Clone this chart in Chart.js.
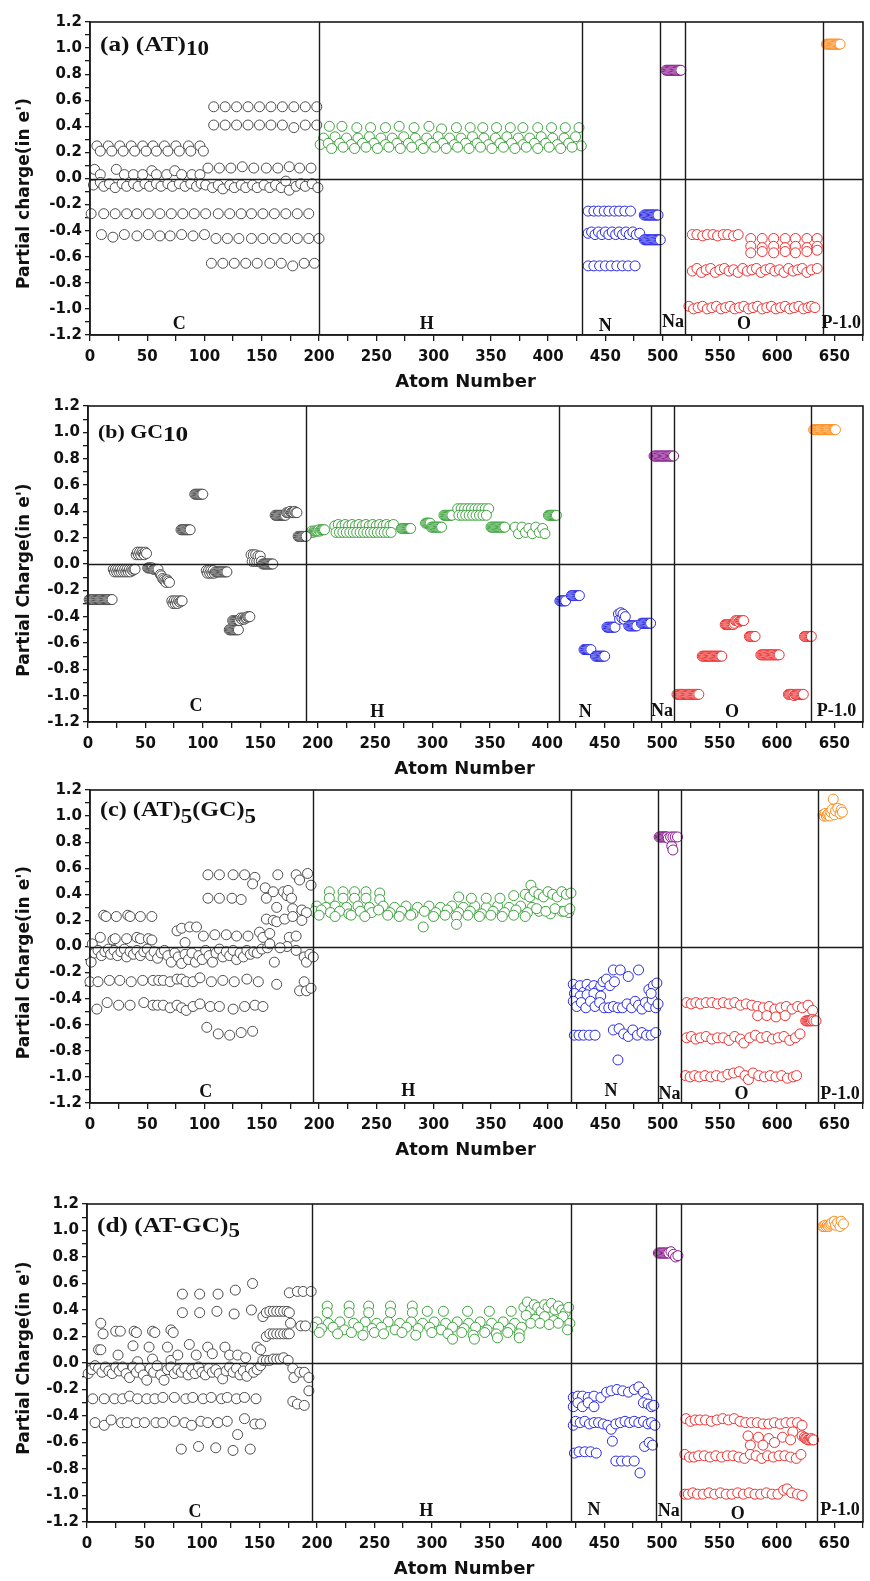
<!DOCTYPE html>
<html>
<head>
<meta charset="utf-8">
<script src="https://cdn.jsdelivr.net/npm/chart.js@4.4.1/dist/chart.umd.min.js"></script>
<style>
  body { margin: 0; background: #fff; }
  .panel { position: absolute; left: 0; width: 870px; }
</style>
</head>
<body>
<div class="panel" style="top:0px;height:395px"><canvas id="ca" width="870" height="395"></canvas></div>
<div class="panel" style="top:384px;height:398px"><canvas id="cb" width="870" height="398"></canvas></div>
<div class="panel" style="top:768px;height:395px"><canvas id="cc" width="870" height="395"></canvas></div>
<div class="panel" style="top:1182px;height:399px"><canvas id="cd" width="870" height="399"></canvas></div>
<script>
// AXES
const xMin = 0, xMax = 675, xStep = 25;
const yMin = -1.2, yMax = 1.2, yStep = 0.1;

// ELEMENTS AND COLOURS
const elements = ["C", "H", "N", "Na", "O", "P"];
const colors = { C: "#4d4d4d", H: "#3ea33e", N: "#2a2ae6", Na: "#8a1a8e", O: "#ee3030", P: "#ff8c1a" };

// (a) (AT)10
const aC = [
  [108,.55],[118,.55],[128,.55],[138,.55],[148,.55],[158,.55],[168,.55],[178,.55],[188,.55],[198,.55],
  [108,.41],[118,.41],[128,.41],[138,.41],[148,.41],[158,.41],[168,.41],[178,.39],[188,.41],[198,.41],
  [6,.25],[16,.25],[26,.25],[36,.25],[46,.25],[55,.25],[65,.25],[75,.25],[86,.25],[96,.25],
  [9,.21],[19,.21],[29,.21],[39,.21],[49,.21],[58,.21],[68,.21],[78,.21],[88,.21],[99,.21],
  [4,.07],[9,.03],[23,.07],[30,.03],[38,.03],[46,.03],[54,.06],[58,.03],[67,.03],[74,.06],[80,.03],[89,.03],[96,.03],
  [103,.08],[113,.08],[123,.08],[133,.09],[143,.08],[154,.08],[164,.08],[174,.09],[183,.08],[193,.08],
  [3,-.05],[9,-.03],[12,-.06],[17,-.04],[22,-.07],[28,-.04],[32,-.06],[38,-.04],[42,-.06],[48,-.04],
  [52,-.06],[58,-.04],[62,-.06],[68,-.04],[72,-.06],[78,-.04],[83,-.06],[88,-.04],[93,-.06],[97,-.04],
  [101,-.05],[107,-.07],[112,-.05],[116,-.08],[122,-.05],[126,-.07],[132,-.05],[136,-.07],[142,-.05],[146,-.07],
  [152,-.05],[157,-.07],[162,-.05],[167,-.07],[171,-.02],[174,-.09],[180,-.06],[184,-.04],[188,-.06],[194,-.04],[199,-.07],
  [1,-.27],[12,-.27],[22,-.27],[32,-.27],[41,-.27],[51,-.27],[61,-.27],[71,-.27],[81,-.27],[91,-.27],
  [101,-.27],[112,-.27],[122,-.27],[132,-.27],[141,-.27],[151,-.27],[161,-.27],[171,-.27],[181,-.27],[191,-.27],
  [10,-.43],[20,-.45],[30,-.43],[41,-.44],[51,-.43],[61,-.44],[70,-.44],[80,-.43],[90,-.44],[100,-.43],
  [110,-.46],[120,-.46],[130,-.46],[141,-.46],[151,-.46],[161,-.46],[171,-.46],[181,-.46],[191,-.46],[200,-.46],
  [106,-.65],[116,-.65],[126,-.65],[136,-.65],[146,-.65],[157,-.65],[167,-.65],[177,-.67],[187,-.65],[196,-.65]
];
const aH = [
  [209,.40],[220,.40],[233,.39],[245,.39],[258,.39],[270,.40],[283,.39],[296,.40],[307,.38],[320,.39],
  [332,.39],[343,.39],[355,.39],[367,.39],[378,.39],[391,.39],[403,.39],[415,.39],[427,.39],
  [204,.31],[214,.32],[224,.31],[234,.31],[244,.32],[254,.31],[264,.31],[274,.32],[284,.31],[294,.31],[304,.32],[314,.31],
  [324,.31],[334,.32],[344,.31],[354,.31],[364,.32],[374,.31],[384,.31],[394,.32],[404,.31],[414,.31],[424,.32],
  [201,.26],[208,.27],[218,.27],[228,.26],[238,.27],[248,.27],[258,.26],[268,.27],[278,.27],[288,.26],[298,.27],[308,.27],
  [318,.26],[328,.27],[338,.27],[348,.26],[358,.27],[368,.27],[378,.26],[388,.27],[398,.27],[408,.26],[418,.27],[429,.25],
  [211,.23],[221,.24],[231,.23],[241,.24],[251,.23],[261,.24],[271,.23],[281,.24],[291,.23],[301,.24],[311,.23],
  [321,.24],[331,.23],[341,.24],[351,.23],[361,.24],[371,.23],[381,.24],[391,.23],[401,.24],[411,.23],[421,.24]
];
const aN = [
  [435,-.25],[440,-.25],[444,-.25],[449,-.25],[453,-.25],[458,-.25],[462,-.25],[467,-.25],[472,-.25],
  [484,-.28],[485,-.28],[486,-.28],[487,-.28],[488,-.28],[489,-.28],[490,-.28],[491,-.28],[492,-.28],[493,-.28],[494,-.28],[495,-.28],[496,-.28],
  [435,-.42],[438,-.41],[441,-.43],[444,-.41],[447,-.43],[450,-.41],[453,-.43],[456,-.41],
  [459,-.43],[462,-.41],[465,-.43],[468,-.41],[471,-.43],[474,-.41],[477,-.43],[480,-.42],
  [484,-.47],[485,-.47],[486,-.47],[487,-.47],[488,-.47],[489,-.47],[490,-.47],[491,-.47],[492,-.47],[493,-.47],
  [494,-.47],[495,-.47],[496,-.47],[497,-.47],[498,-.47],
  [435,-.67],[440,-.67],[445,-.67],[450,-.67],[455,-.67],[460,-.67],[465,-.67],[470,-.67],[476,-.67]
];
const aNa = [[503,.83],[504,.83],[505,.83],[506,.83],[507,.83],[508,.83],[509,.83],[510,.83],[511,.83],[512,.83],[513,.83],[514,.83],[515,.83],[516,.83]];
const aO = [
  [526,-.43],[530,-.43],[535,-.44],[539,-.43],[544,-.43],[548,-.44],[553,-.43],[557,-.43],[562,-.44],[566,-.43],
  [577,-.46],[587,-.46],[597,-.46],[607,-.46],[616,-.46],[626,-.46],[635,-.46],
  [577,-.52],[587,-.53],[597,-.52],[607,-.53],[616,-.52],[626,-.53],[635,-.52],
  [577,-.57],[587,-.56],[597,-.57],[607,-.56],[616,-.57],[626,-.56],[635,-.55],
  [526,-.71],[530,-.69],[534,-.72],[538,-.70],[542,-.69],[546,-.72],[550,-.70],[554,-.69],[558,-.71],[562,-.70],
  [566,-.72],[570,-.69],[574,-.71],[578,-.70],[582,-.69],[586,-.72],[590,-.70],[594,-.69],[598,-.71],[602,-.70],
  [606,-.72],[610,-.69],[614,-.71],[618,-.70],[622,-.69],[626,-.72],[630,-.70],[635,-.69],
  [523,-.98],[527,-1.0],[531,-.99],[535,-.98],[539,-1.0],[543,-.99],[547,-.98],[551,-1.0],[555,-.99],[559,-.98],
  [563,-1.0],[567,-.99],[571,-.98],[575,-1.0],[579,-.99],[583,-.98],[587,-1.0],[591,-.99],[595,-.98],[599,-1.0],
  [603,-.99],[607,-.98],[611,-1.0],[615,-.99],[619,-.98],[623,-1.0],[627,-.99],[630,-.98],[633,-.99]
];
const aP = [[643,1.03],[644,1.03],[645,1.03],[646,1.03],[647,1.03],[648,1.03],[649,1.03],[650,1.03],[651,1.03],[652,1.03],[653,1.03],[654,1.03],[655,1.03]];

// (b) GC10
const bC = [
  [1,-.27],[2,-.27],[3,-.27],[4,-.27],[5,-.27],[6,-.27],[7,-.27],[8,-.27],[9,-.27],[10,-.27],[11,-.27],
  [12,-.27],[13,-.27],[14,-.27],[15,-.27],[16,-.27],[17,-.27],[18,-.27],[19,-.27],[20,-.27],[21,-.27],
  [22,-.04],[23,-.06],[24,-.04],[25,-.06],[26,-.04],[27,-.06],[28,-.04],[29,-.06],[30,-.04],[31,-.06],
  [32,-.04],[33,-.06],[34,-.04],[35,-.06],[36,-.04],[37,-.06],[38,-.04],[39,-.05],[40,-.04],[41,-.04],
  [42,.07],[43,.09],[44,.07],[45,.09],[46,.07],[47,.09],[48,.08],[49,.07],[50,.09],[51,.08],
  [52,-.03],[53,-.03],[54,-.03],[55,-.03],[56,-.03],[57,-.04],[58,-.04],[59,-.04],[60,-.04],[61,-.04],
  [63,-.08],[64,-.09],[65,-.11],[66,-.12],[67,-.13],[68,-.14],[69,-.12],[70,-.13],[71,-.14],
  [73,-.28],[74,-.30],[75,-.28],[76,-.30],[77,-.28],[78,-.30],[79,-.28],[80,-.29],[81,-.28],[82,-.28],
  [81,.26],[82,.26],[83,.26],[84,.26],[85,.26],[86,.26],[87,.26],[88,.26],[89,.26],
  [93,.53],[94,.53],[95,.53],[96,.53],[97,.53],[98,.53],[99,.53],[100,.53],
  [103,-.05],[104,-.07],[105,-.05],[106,-.07],[107,-.05],[108,-.07],[109,-.05],[110,-.07],[111,-.06],[112,-.06],
  [113,-.06],[114,-.06],[115,-.06],[116,-.06],[117,-.06],[118,-.06],[119,-.06],[120,-.06],[121,-.06],
  [123,-.50],[124,-.50],[125,-.50],[126,-.50],[127,-.50],[128,-.50],[129,-.50],[130,-.50],[131,-.50],
  [126,-.43],[127,-.43],[128,-.43],[129,-.43],[130,-.43],[131,-.43],[132,-.43],
  [133,-.41],[134,-.42],[135,-.41],[136,-.42],[137,-.41],[138,-.41],[139,-.40],[140,-.40],[141,-.40],
  [142,.07],[143,.02],[144,.07],[145,.02],[146,.07],[147,.02],[148,.06],[149,.02],[150,.06],[151,.02],
  [152,0],[153,0],[154,0],[155,0],[156,0],[157,0],[158,0],[159,0],[160,0],[161,0],
  [163,.37],[164,.37],[165,.37],[166,.37],[167,.37],[168,.37],[169,.37],[170,.37],[171,.37],[172,.37],
  [173,.39],[174,.39],[175,.39],[176,.40],[177,.39],[178,.39],[179,.39],[180,.40],[181,.39],[182,.39],
  [183,.21],[184,.21],[185,.21],[186,.21],[187,.21],[188,.21],[189,.21],[190,.21]
];
const bH = [
  [194,.24],[195,.25],[196,.24],[197,.25],[198,.25],[199,.25],[200,.25],[201,.26],[202,.25],[203,.26],[204,.26],[205,.26],[206,.26],
  [215,.29],[218,.30],[221,.29],[224,.30],[227,.29],[230,.30],[233,.29],[236,.30],[239,.29],[242,.30],[245,.29],[248,.30],
  [251,.29],[254,.30],[257,.29],[260,.30],[263,.29],[266,.30],
  [216,.24],[219,.24],[222,.24],[225,.24],[228,.24],[231,.24],[234,.24],[237,.24],[240,.24],[243,.24],[246,.24],
  [249,.24],[252,.24],[255,.24],[258,.24],[261,.24],[264,.24],
  [273,.27],[274,.27],[275,.27],[276,.27],[277,.27],[278,.27],[279,.27],[280,.27],[281,.27],
  [294,.31],[295,.31],[296,.31],[297,.31],[298,.31],
  [299,.28],[300,.28],[301,.28],[302,.28],[303,.28],[304,.28],[305,.28],[306,.28],[307,.28],[308,.28],
  [310,.37],[311,.37],[312,.37],[313,.37],[314,.37],[315,.37],[316,.37],[317,.37],
  [322,.42],[325,.42],[328,.42],[331,.42],[334,.42],[337,.42],[340,.42],[343,.42],[346,.42],[349,.42],
  [323,.37],[326,.37],[329,.37],[332,.37],[335,.37],[338,.37],[341,.37],[344,.37],[347,.37],
  [351,.28],[352,.28],[353,.28],[354,.28],[355,.28],[356,.28],[357,.28],[358,.28],[359,.28],[360,.28],[361,.28],[362,.28],[363,.28],
  [372,.28],[375,.23],[378,.28],[381,.24],[384,.27],[387,.23],[390,.28],[393,.24],[396,.27],[398,.23],
  [401,.37],[402,.37],[403,.37],[404,.37],[405,.37],[406,.37],[407,.37],[408,.37]
];
const bN = [
  [411,-.28],[412,-.28],[413,-.28],[414,-.28],[415,-.28],[416,-.28],
  [421,-.24],[422,-.24],[423,-.24],[424,-.24],[425,-.24],[426,-.24],[427,-.24],[428,-.24],
  [432,-.65],[433,-.65],[434,-.65],[435,-.65],[436,-.65],[437,-.65],[438,-.65],
  [442,-.70],[443,-.70],[444,-.70],[445,-.70],[446,-.70],[447,-.70],[448,-.70],[449,-.70],[450,-.70],
  [452,-.48],[453,-.48],[454,-.48],[455,-.48],[456,-.48],[457,-.48],[458,-.48],[459,-.48],
  [462,-.38],[463,-.42],[464,-.37],[465,-.41],[466,-.38],[467,-.42],[468,-.40],
  [471,-.47],[472,-.47],[473,-.47],[474,-.47],[475,-.47],[476,-.47],[477,-.47],[478,-.47],
  [482,-.45],[483,-.45],[484,-.45],[485,-.45],[486,-.45],[487,-.45],[488,-.45],[489,-.45],[490,-.45]
];
const bNa = [
  [493,.82],[494,.82],[495,.82],[496,.82],[497,.82],[498,.82],[499,.82],[500,.82],[501,.82],
  [502,.82],[503,.82],[504,.82],[505,.82],[506,.82],[507,.82],[508,.82],[509,.82],[510,.82]
];
const bO = [
  [513,-.99],[514,-.99],[515,-.99],[516,-.99],[517,-.99],[518,-.99],[519,-.99],[520,-.99],[521,-.99],[522,-.99],
  [523,-.99],[524,-.99],[525,-.99],[526,-.99],[527,-.99],[528,-.99],[529,-.99],[530,-.99],[531,-.99],[532,-.99],
  [535,-.70],[536,-.70],[537,-.70],[538,-.70],[539,-.70],[540,-.70],[541,-.70],[542,-.70],[543,-.70],
  [544,-.70],[545,-.70],[546,-.70],[547,-.70],[548,-.70],[549,-.70],[550,-.70],[551,-.70],[552,-.70],
  [555,-.46],[556,-.46],[557,-.46],[558,-.46],[559,-.46],[560,-.46],[561,-.46],[562,-.46],[563,-.45],
  [564,-.43],[565,-.43],[566,-.43],[567,-.44],[568,-.43],[569,-.43],[570,-.43],[571,-.43],
  [576,-.55],[577,-.55],[578,-.55],[579,-.55],[580,-.55],[581,-.55],
  [586,-.69],[587,-.69],[588,-.69],[589,-.69],[590,-.69],[591,-.69],[592,-.69],[593,-.69],[594,-.69],
  [595,-.69],[596,-.69],[597,-.69],[598,-.69],[599,-.69],[600,-.69],[601,-.69],[602,-.69],
  [610,-.99],[611,-.99],[612,-.99],[613,-.99],[614,-.99],[615,-1.0],[616,-.99],[617,-.99],[618,-.99],
  [619,-.99],[620,-.99],[621,-.99],[622,-.99],[623,-.99],
  [624,-.55],[625,-.55],[626,-.55],[627,-.55],[628,-.55],[629,-.55],[630,-.55]
];
const bP = [
  [632,1.02],[633,1.02],[634,1.02],[635,1.02],[636,1.02],[637,1.02],[638,1.02],[639,1.02],[640,1.02],[641,1.02],
  [642,1.02],[643,1.02],[644,1.02],[645,1.02],[646,1.02],[647,1.02],[648,1.02],[649,1.02],[650,1.02],[651,1.02]
];

// (c) (AT)5(GC)5
const cC = [
  [12,.24],[14,.23],[23,.23],[33,.24],[35,.23],[44,.23],[54,.23],
  [2,.02],[9,.07],[20,.05],[22,.06],[32,.06],[41,.07],[44,.06],[51,.06],[54,.05],
  [1,-.12],[4,-.05],[7,-.03],[10,-.07],[13,-.04],[16,-.02],[18,-.06],[21,-.03],[24,-.07],[27,-.04],
  [30,-.02],[32,-.08],[35,-.04],[38,-.06],[41,-.03],[44,-.07],[47,-.04],[50,-.02],[53,-.07],[56,-.04],
  [59,-.09],[62,-.05],[65,-.03],[68,-.07],[71,-.12],[74,-.05],[77,-.08],[80,-.13],[83,-.06],[86,-.10],
  [89,-.05],[92,-.12],[95,-.07],[98,-.10],[101,-.03],[104,-.07],[107,-.12],[110,-.05],[113,-.02],[116,-.08],
  [119,-.04],[122,-.07],[125,-.03],[128,-.10],[131,-.05],[134,-.08],[137,-.03],[140,-.06],[143,-.04],[146,-.05],[150,-.02],[155,-.01],
  [0,-.27],[7,-.27],[17,-.26],[26,-.26],[36,-.27],[46,-.26],[55,-.26],[60,-.26],[64,-.26],[70,-.27],
  [76,-.25],[80,-.25],[84,-.27],[90,-.27],[96,-.24],[106,-.27],[116,-.26],[126,-.27],[137,-.25],[147,-.27],[163,-.29],
  [6,-.48],[15,-.43],[25,-.45],[35,-.45],[47,-.43],[55,-.45],[59,-.45],[64,-.45],[70,-.47],[76,-.45],
  [80,-.47],[84,-.49],[90,-.46],[96,-.44],[105,-.46],[113,-.46],[125,-.48],[135,-.46],[144,-.45],[151,-.46],
  [102,-.62],[112,-.67],[122,-.68],[132,-.66],[142,-.65],
  [103,.55],[113,.55],[125,.55],[135,.55],[144,.53],[103,.37],[113,.37],[124,.37],[132,.36],[142,.48],
  [153,.45],[154,.37],[160,.42],[164,.55],[163,.30],[169,.42],[172,.39],[173,.43],[176,.37],[177,.29],
  [180,.55],[183,.51],[185,.28],[190,.56],[193,.47],[189,.26],
  [76,.12],[80,.14],[87,.15],[93,.15],[83,.03],[99,.08],[109,.09],[119,.09],[128,.08],[138,.08],
  [148,.11],[151,.07],[154,.21],[157,.10],[160,.20],[163,.19],[170,.21],[174,.07],[177,.23],[180,.08],
  [185,.20],[172,0],[166,-.01],[157,.02],
  [161,-.12],[180,-.03],[183,-.34],[187,-.27],[189,-.34],[193,-.32],[187,-.08],[189,-.12],[192,-.06],[195,-.08]
];
const cH = [
  [209,.42],[221,.42],[231,.42],[241,.42],[253,.41],[209,.37],[221,.37],[231,.37],[241,.37],[253,.36],
  [198,.31],[206,.30],[214,.31],[224,.30],[234,.31],[244,.30],[256,.31],[266,.30],[276,.31],[286,.30],
  [296,.31],[306,.30],[316,.31],[326,.30],[336,.31],[346,.30],[356,.31],[366,.30],[376,.31],[386,.30],
  [196,.27],[202,.28],[210,.26],[218,.27],[226,.25],[236,.27],[246,.26],[252,.28],[262,.26],[272,.27],
  [282,.25],[292,.27],[302,.26],[312,.28],[322,.26],[332,.27],[342,.25],[352,.27],[362,.26],[372,.28],
  [382,.26],[392,.27],[402,.25],[412,.27],[418,.26],
  [200,.24],[214,.23],[228,.24],[240,.23],[260,.24],[270,.23],[280,.24],[300,.23],[310,.24],[320,.23],
  [330,.24],[340,.23],[350,.24],[360,.23],[370,.24],[380,.23],
  [291,.15],[320,.17],
  [322,.38],[333,.37],[346,.37],[358,.37],[370,.39],[385,.47],
  [380,.40],[384,.38],[388,.42],[392,.40],[396,.38],[400,.42],[404,.40],[408,.38],[412,.42],[416,.40],[420,.41],
  [390,.29],[398,.27],[406,.29],[414,.27],[419,.29]
];
const cN = [
  [422,-.29],[425,-.33],[428,-.30],[431,-.35],[434,-.29],[437,-.33],[440,-.30],[443,-.34],[446,-.30],
  [448,-.27],[451,-.25],[454,-.30],[458,-.27],
  [457,-.18],[463,-.18],[470,-.23],[479,-.18],
  [423,-.36],[428,-.38],[434,-.37],[440,-.36],[446,-.38],
  [422,-.42],[425,-.46],[429,-.43],[433,-.47],[437,-.42],[441,-.46],[445,-.43],[449,-.47],[453,-.47],[457,-.46],
  [461,-.47],[465,-.47],[469,-.44],[473,-.47],[476,-.42],[479,-.45],[482,-.48],[485,-.43],[488,-.46],[491,-.41],[494,-.47],[496,-.44],
  [488,-.33],[492,-.30],[495,-.28],[490,-.36],
  [423,-.68],[427,-.68],[431,-.68],[436,-.68],[441,-.68],
  [457,-.64],[462,-.63],[466,-.67],[470,-.69],[474,-.64],[478,-.68],[482,-.66],[486,-.68],[490,-.68],[494,-.66],
  [461,-.87]
];
const cNa = [
  [497,.84],[498,.84],[499,.84],[500,.84],[501,.84],[502,.84],[503,.84],[504,.84],[505,.83],
  [508,.77],[509,.74],[507,.84],[509,.84],[511,.84],[513,.84]
];
const cO = [
  [521,-.43],[525,-.44],[529,-.43],[533,-.44],[538,-.43],[543,-.43],[548,-.44],[553,-.43],[558,-.44],[563,-.43],[568,-.45],[573,-.44],[578,-.45],
  [583,-.46],[588,-.47],[593,-.46],[598,-.48],[603,-.47],[608,-.46],[613,-.48],[618,-.46],[622,-.47],[627,-.45],[631,-.49],
  [583,-.53],[591,-.53],[599,-.54],[607,-.53],
  [625,-.57],[626,-.57],[627,-.57],[628,-.57],[629,-.57],[630,-.57],[631,-.56],[632,-.57],[634,-.57],
  [521,-.70],[525,-.69],[529,-.71],[533,-.70],[538,-.69],[543,-.71],[548,-.70],[553,-.70],[558,-.72],[563,-.69],[568,-.71],
  [571,-.74],[576,-.70],[581,-.68],[586,-.70],[591,-.69],[596,-.71],[601,-.70],[606,-.69],[611,-.72],[616,-.70],[620,-.67],
  [520,-.99],[524,-1.0],[528,-.99],[532,-1.0],[537,-.99],[542,-1.0],[547,-.99],[552,-1.0],[557,-.98],[562,-.97],[567,-.96],
  [572,-.99],[575,-1.02],[579,-.97],[584,-.99],[589,-1.0],[594,-.99],[599,-1.0],[604,-.99],[609,-1.01],[614,-1.0],[617,-.99]
];
const cP = [
  [640,1.01],[641,1.0],[642,1.02],[643,1.0],[644,1.01],[645,1.02],[646,1.0],[647,1.03],
  [648,1.05],[649,1.13],[650,1.01],[651,1.04],[653,1.06],[655,1.02],[656,1.05],[657,1.03]
];

// (d) (AT-GC)5
const dC = [
  [12,.30],[14,.22],[10,.10],[12,.10],
  [25,.24],[29,.24],[41,.24],[43,.23],[57,.24],[59,.23],[73,.25],[75,.23],
  [40,.13],[54,.12],[70,.12],[89,.14],[105,.12],[120,.12],
  [27,.06],[44,.01],[57,.03],[73,.02],[79,.06],[95,.06],[109,.07],[124,.06],[131,.06],[138,.04],
  [1,-.08],[4,-.05],[7,-.02],[10,-.04],[13,-.07],[16,-.03],[19,-.06],[22,-.08],[25,-.03],[28,-.06],
  [31,-.03],[34,-.08],[37,-.11],[40,-.03],[43,-.07],[46,-.04],[49,-.09],[52,-.13],[55,-.04],[58,-.07],
  [61,-.02],[64,-.09],[67,-.13],[70,-.05],[73,-.03],[76,-.08],[79,-.05],[82,-.07],[85,-.04],[88,-.09],
  [91,-.05],[94,-.08],[97,-.03],[100,-.07],[103,-.09],[106,-.04],[109,-.07],[112,-.05],[115,-.08],[118,-.12],
  [121,-.06],[124,-.03],[127,-.07],[130,-.04],[133,-.09],[136,-.06],[139,-.10],[142,-.04],[145,-.07],[148,-.05],[151,-.02],
  [5,-.27],[15,-.27],[24,-.27],[31,-.27],[37,-.25],[44,-.27],[52,-.27],[59,-.27],[66,-.26],[76,-.26],
  [86,-.27],[92,-.26],[101,-.27],[108,-.26],[117,-.27],[122,-.26],[130,-.27],[137,-.26],[147,-.27],
  [7,-.45],[15,-.47],[21,-.43],[30,-.45],[35,-.45],[43,-.45],[50,-.45],[60,-.45],[66,-.45],[76,-.44],
  [85,-.45],[91,-.47],[99,-.44],[105,-.45],[114,-.45],[122,-.44],[131,-.54],[137,-.42],[146,-.46],[151,-.46],
  [82,-.65],[97,-.63],[112,-.64],[127,-.66],[142,-.65],
  [83,.52],[98,.52],[114,.52],[129,.55],[144,.60],[83,.38],[98,.38],[113,.39],[128,.37],[143,.40],
  [153,.35],[156,.38],[159,.39],[162,.39],[165,.39],[168,.39],[171,.39],[174,.39],[176,.38],
  [156,.20],[159,.22],[162,.22],[165,.22],[168,.22],[171,.22],[174,.22],[176,.22],
  [153,.02],[156,.02],[159,.02],[162,.03],[165,.03],[168,.03],[171,.04],[175,.02],
  [176,.53],[183,.54],[188,.54],[195,.54],[186,.28],[190,.28],[177,.30],[148,.12],[151,.10],
  [179,-.04],[180,-.11],[185,-.07],[189,-.07],[193,-.11],[193,-.21],[179,-.29],[183,-.31],[189,-.32]
];
const dH = [
  [209,.43],[228,.43],[245,.43],[264,.43],[283,.43],[296,.39],[209,.38],[228,.38],[245,.38],[264,.38],[283,.38],
  [200,.31],[210,.30],[220,.31],[232,.30],[242,.31],[252,.30],[262,.31],[272,.30],[282,.31],[292,.30],
  [302,.31],[312,.30],[322,.31],[332,.30],[342,.31],[352,.30],[362,.31],[372,.30],
  [197,.27],[204,.26],[214,.27],[224,.25],[236,.27],[248,.26],[256,.27],[268,.25],[278,.27],[288,.26],
  [298,.27],[308,.25],[318,.27],[328,.26],[338,.27],[348,.25],[358,.27],[368,.26],[378,.27],
  [202,.23],[218,.22],[230,.23],[240,.21],[250,.23],[258,.22],[274,.23],[286,.21],[300,.23],[314,.22],
  [326,.23],[336,.21],[346,.23],[356,.22],[366,.23],[376,.22],
  [318,.18],[337,.18],[357,.19],[376,.19],
  [310,.39],[331,.39],[350,.39],[369,.39],
  [380,.42],[383,.46],[386,.40],[389,.44],[392,.42],[395,.39],[398,.44],[401,.42],[404,.45],[407,.40],
  [410,.43],[413,.40],[416,.38],[419,.42],
  [382,.36],[390,.33],[398,.35],[406,.32],[414,.35],[420,.30],
  [386,.30],[394,.30],[402,.29],[410,.30],[418,.25]
];
const dN = [
  [423,-.26],[427,-.25],[431,-.25],[436,-.26],[441,-.25],
  [423,-.33],[427,-.30],[431,-.33],[436,-.30],[441,-.33],
  [447,-.26],[452,-.22],[456,-.21],[461,-.20],[466,-.21],[471,-.22],[476,-.20],[480,-.18],[484,-.22],[487,-.27],
  [484,-.30],[488,-.31],[491,-.33],[493,-.32],
  [423,-.47],[425,-.44],[429,-.45],[433,-.44],[437,-.46],[441,-.45],[445,-.45],[449,-.46],[453,-.47],[456,-.50],
  [460,-.46],[464,-.45],[468,-.44],[472,-.45],[476,-.44],[480,-.45],[484,-.44],[488,-.46],[491,-.45],[494,-.47],
  [457,-.59],[485,-.63],[489,-.60],[492,-.62],
  [424,-.68],[428,-.67],[433,-.67],[438,-.67],[443,-.68],
  [460,-.74],[465,-.74],[470,-.74],[476,-.74],
  [481,-.83]
];
const dNa = [
  [497,.83],[498,.83],[499,.83],[500,.83],[501,.83],[502,.83],[503,.83],[504,.83],[505,.83],[506,.83],
  [508,.84],[510,.82],[512,.80],[514,.81]
];
const dO = [
  [521,-.42],[525,-.44],[529,-.43],[533,-.43],[538,-.43],[543,-.44],[548,-.43],[553,-.42],[558,-.43],[563,-.42],[568,-.44],
  [573,-.45],[578,-.45],[583,-.45],[588,-.46],[593,-.46],[598,-.45],[603,-.46],[608,-.45],[613,-.45],[618,-.45],[622,-.47],
  [575,-.55],[584,-.56],[593,-.57],[605,-.56],[614,-.52],[622,-.55],[577,-.62],[588,-.62],[598,-.60],[612,-.58],
  [624,-.56],[625,-.57],[626,-.57],[627,-.58],[628,-.58],[629,-.58],[630,-.57],[631,-.58],[632,-.58],
  [520,-.69],[524,-.71],[528,-.71],[532,-.70],[537,-.70],[542,-.71],[547,-.70],[552,-.71],[557,-.70],[562,-.70],[567,-.71],
  [572,-.72],[577,-.69],[582,-.70],[587,-.72],[592,-.70],[597,-.71],[602,-.70],[607,-.70],[612,-.71],[617,-.72],[621,-.69],
  [520,-.99],[523,-.99],[527,-.98],[531,-.99],[536,-.99],[541,-.98],[546,-.99],[551,-.98],[556,-.99],[561,-.99],[566,-.98],
  [571,-.99],[576,-.98],[581,-.99],[586,-.99],[591,-.98],[596,-.99],[601,-.99],[606,-.96],[609,-.95],[613,-.98],[618,-.99],[622,-1.0]
];
const dP = [
  [640,1.03],[641,1.03],[642,1.04],[643,1.03],[644,1.04],[645,1.03],[646,1.04],[647,1.05],
  [648,1.06],[650,1.07],[651,1.04],[653,1.06],[655,1.03],[656,1.07],[658,1.05]
];

// REGION SEPARATORS (atom number)
const sepA = [200, 430, 498, 520, 640];
const sepB = [190, 410, 490, 510, 630];
const sepC = [195, 420, 496, 516, 636];
const sepD = [196, 421, 495, 517, 635];

// REGION LABELS [text, atom number, charge]
const labA = [["C",78,-1.12],["H",294,-1.12],["N",450,-1.13],["Na",509,-1.10],["O",571,-1.12],["P-1.0",656,-1.11]];
const labB = [["C",94,-1.08],["H",252,-1.13],["N",433,-1.13],["Na",500,-1.12],["O",561,-1.13],["P-1.0",652,-1.12]];
const labC = [["C",101,-1.12],["H",278,-1.11],["N",455,-1.11],["Na",506,-1.13],["O",569,-1.13],["P-1.0",655,-1.13]];
const labD = [["C",94,-1.13],["H",295,-1.12],["N",441,-1.11],["Na",506,-1.12],["O",566,-1.14],["P-1.0",655,-1.11]];

// PANEL TITLES (second value 1 = subscript)
const titleA = [["(a) (AT)",0],["10",1]];
const titleB = [["(b) GC",0],["10",1]];
const titleC = [["(c) (AT)",0],["5",1],["(GC)",0],["5",1]];
const titleD = [["(d) (AT-GC)",0],["5",1]];

const panels = [
  { canvas: "ca", data: [aC,aH,aN,aNa,aO,aP], seps: sepA, labels: labA, title: titleA, yTitle: "Partial charge(in e')",
    axisW: 90, axisH: 60, tFont: [22,20], tDy: [29,33], yShift: 15 },
  { canvas: "cb", data: [bC,bH,bN,bNa,bO,bP], seps: sepB, labels: labB, title: titleB, yTitle: "Partial Charge(in e')",
    axisW: 88, axisH: 60, tFont: [19,22], tDy: [32,35], yShift: 16 },
  { canvas: "cc", data: [cC,cH,cN,cNa,cO,cP], seps: sepC, labels: labC, title: titleC, yTitle: "Partial Charge(in e')",
    axisW: 90, axisH: 60, tFont: [21,20], tDy: [26,33], yShift: 16 },
  { canvas: "cd", data: [dC,dH,dN,dNa,dO,dP], seps: sepD, labels: labD, title: titleD, yTitle: "Partial Charge(in e')",
    axisW: 87, axisH: 59, tFont: [22,20], tDy: [28,33], yShift: -5 }
];

// OVERLAY: frame, separators, zero line, labels, titles
const overlay = {
  id: "overlay",
  afterDatasetsDraw(chart, args, opts) {
    const p = opts.panel;
    const { ctx, chartArea: a } = chart;
    const x = chart.scales.x, y = chart.scales.y;
    ctx.save();
    ctx.strokeStyle = "#1a1a1a";
    ctx.lineWidth = 1.4;
    ctx.beginPath();
    p.seps.forEach(v => {
      const px = Math.round(x.getPixelForValue(v)) + 0.5;
      ctx.moveTo(px, a.top); ctx.lineTo(px, a.bottom);
    });
    const zy = Math.round(y.getPixelForValue(0)) + 0.5;
    ctx.moveTo(a.left, zy); ctx.lineTo(a.right, zy);
    ctx.stroke();
    ctx.lineWidth = 1.6;
    ctx.strokeRect(a.left, a.top, a.right - a.left, a.bottom - a.top);

    ctx.fillStyle = "#111";
    ctx.font = 'bold 18px "Liberation Serif"';
    ctx.textAlign = "center";
    ctx.textBaseline = "middle";
    p.labels.forEach(([t, xv, yv]) => ctx.fillText(t, x.getPixelForValue(xv), y.getPixelForValue(yv)));

    // panel title
    const sx = 1.15;
    let tx = a.left + 10;
    ctx.textAlign = "left";
    ctx.textBaseline = "alphabetic";
    p.title.forEach(([t, sub]) => {
      ctx.font = 'bold ' + p.tFont[sub] + 'px "Liberation Serif"';
      ctx.save();
      ctx.translate(tx, a.top + p.tDy[sub]);
      ctx.scale(sx, 1);
      ctx.fillText(t, 0, 0);
      ctx.restore();
      tx += ctx.measureText(t).width * sx;
    });

    // axis titles
    ctx.font = 'bold 17px "DejaVu Sans"';
    ctx.textAlign = "center";
    ctx.textBaseline = "middle";
    ctx.save();
    ctx.translate(25, (a.top + a.bottom) / 2 + p.yShift);
    ctx.rotate(-Math.PI / 2);
    ctx.fillText(p.yTitle, 0, 0);
    ctx.restore();
    ctx.font = 'bold 18px "DejaVu Sans"';
    ctx.fillText("Atom Number", (a.left + a.right) / 2 - 11, a.bottom + 47);
    ctx.restore();
  }
};

panels.forEach(p => {
  const datasets = elements.map((el, i) => ({
    label: el,
    data: p.data[i].map(([ax, q]) => ({ x: ax, y: q })),
    pointStyle: "circle",
    pointRadius: 5,
    pointBorderWidth: 1,
    borderColor: colors[el],
    pointBorderColor: colors[el],
    pointBackgroundColor: "#ffffff",
    showLine: false,
    clip: false
  }));

  new Chart(document.getElementById(p.canvas), {
    type: "scatter",
    data: { datasets: datasets },
    options: {
      responsive: false,
      animation: false,
      events: [],
      layout: { padding: { top: 22, right: 4, left: 0, bottom: 0 } },
      plugins: { legend: { display: false }, tooltip: { enabled: false }, overlay: { panel: p } },
      scales: {
        x: {
          type: "linear", min: xMin, max: xMax,
          afterFit: s => { s.height = p.axisH; },
          border: { display: true, color: "#1a1a1a", width: 1.5 },
          grid: { drawOnChartArea: false, drawTicks: true, tickLength: 6, color: "#1a1a1a", lineWidth: 1.3 },
          ticks: {
            stepSize: xStep, autoSkip: false, maxRotation: 0, padding: 7, color: "#111",
            font: { family: "DejaVu Sans", size: 15, weight: "bold" },
            callback: v => (v % 50 === 0 ? v : "")
          }
        },
        y: {
          type: "linear", min: yMin, max: yMax,
          afterFit: s => { s.width = p.axisW; },
          border: { display: true, color: "#1a1a1a", width: 1.5 },
          grid: { drawOnChartArea: false, drawTicks: true, tickLength: 5, color: "#1a1a1a", lineWidth: 1.3 },
          ticks: {
            stepSize: yStep, autoSkip: false, padding: 3, color: "#111",
            font: { family: "DejaVu Sans", size: 15, weight: "bold" },
            callback: v => (Math.round(v * 10) % 2 === 0 ? (Math.round(v * 10) / 10).toFixed(1) : "")
          }
        }
      }
    },
    plugins: [overlay]
  });
});
</script>
</body>
</html>
